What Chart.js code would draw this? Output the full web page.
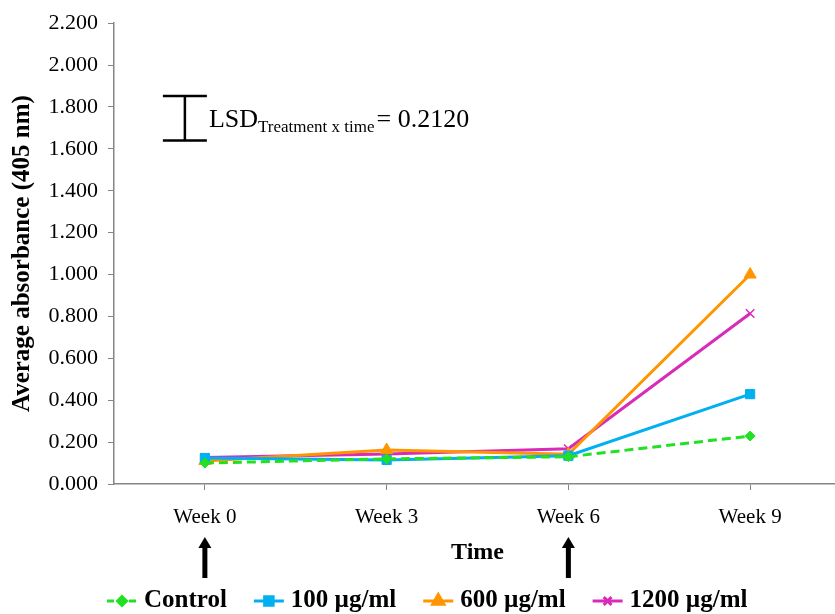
<!DOCTYPE html>
<html>
<head>
<meta charset="utf-8">
<script src="https://cdn.jsdelivr.net/npm/chart.js@4/dist/chart.umd.min.js"></script>
<style>
  html, body { margin: 0; padding: 0; background: #fff; }
  #wrap { width: 835px; height: 614px; position: relative; }
</style>
</head>
<body>
<div id="wrap"><canvas id="c" width="835" height="614"></canvas></div>
<script>
// ---- data ----
const categories = ['Week 0', 'Week 3', 'Week 6', 'Week 9'];
const seriesNames = ['Control', '100 µg/ml', '600 µg/ml', '1200 µg/ml'];
const control = [0.100, 0.120, 0.130, 0.229];
const conc100 = [0.124, 0.115, 0.135, 0.429];
const conc600 = [0.110, 0.162, 0.142, 1.000];
const conc1200 = [0.127, 0.143, 0.168, 0.814];
const yTicksMin = 0, yTicksMax = 2.2, yTickStep = 0.2;
const lsdValue = 0.2120;
const lsdTop = 1.852;          // value level of the LSD bar top
const arrowWeeks = ['Week 0', 'Week 6'];
const yTitle = 'Average absorbance (405 nm)';
const xTitle = 'Time';

const SERIF = "'Liberation Serif', 'Times New Roman', serif";
const colors = ['#22E022', '#00B0F0', '#FF9500', '#D82BB8'];
const styles = ['rectRot', 'rect', 'triangle', 'crossRot'];
const radii = [5, 6.5, 7, 6];
const values = [control, conc100, conc600, conc1200];

const datasets = values.map((v, i) => ({
  label: seriesNames[i],
  data: v,
  borderColor: colors[i],
  backgroundColor: colors[i],
  borderWidth: 3,
  borderDash: i === 0 ? [9, 5] : [],
  pointStyle: styles[i],
  pointRadius: radii[i],
  pointHoverRadius: radii[i],
  pointBorderWidth: i === 3 ? 1.5 : 1,
  pointBorderColor: colors[i],
  pointBackgroundColor: colors[i],
  tension: 0,
  fill: false
}));

// the plot area of the original runs a few pixels past the right edge
const widen = {
  id: 'widen',
  afterLayout(chart) {
    const extra = 6;
    const xs = chart.scales.x;
    chart.chartArea.right += extra;
    chart.chartArea.width += extra;
    xs.right += extra;
    xs.width += extra;
    xs.configure();
  }
};

const annot = {
  id: 'annot',
  afterDraw(chart) {
    const ctx = chart.ctx;
    const xs = chart.scales.x, ys = chart.scales.y;
    ctx.save();
    // LSD bar
    const bx = xs.getPixelForValue(-0.11);
    const yT = ys.getPixelForValue(lsdTop);
    const yB = ys.getPixelForValue(lsdTop - lsdValue);
    ctx.strokeStyle = '#000';
    ctx.lineWidth = 2.5;
    ctx.beginPath();
    ctx.moveTo(bx, yT); ctx.lineTo(bx, yB);
    ctx.moveTo(bx - 22, yT); ctx.lineTo(bx + 22, yT);
    ctx.moveTo(bx - 22, yB); ctx.lineTo(bx + 22, yB);
    ctx.stroke();
    // LSD text
    const baseY = (yT + yB) / 2 + 9;
    let tx = bx + 24;
    ctx.fillStyle = '#000';
    ctx.textBaseline = 'alphabetic';
    ctx.textAlign = 'left';
    ctx.font = '26px ' + SERIF;
    ctx.fillText('LSD', tx, baseY);
    tx += ctx.measureText('LSD').width;
    ctx.font = '17px ' + SERIF;
    ctx.fillText('Treatment x time', tx, baseY + 5);
    tx += ctx.measureText('Treatment x time').width + 2;
    ctx.font = '26px ' + SERIF;
    ctx.fillText('= ' + lsdValue.toFixed(4), tx, baseY);

    // arrows
    arrowWeeks.forEach(w => {
      const ax = xs.getPixelForValue(categories.indexOf(w));
      const tip = 537, bot = 578;
      ctx.fillStyle = '#000';
      ctx.fillRect(ax - 2.5, tip + 9, 5, bot - tip - 9);
      ctx.beginPath();
      ctx.moveTo(ax, tip);
      ctx.lineTo(ax + 6.5, tip + 11);
      ctx.lineTo(ax - 6.5, tip + 11);
      ctx.closePath();
      ctx.fill();
    });

    // legend
    const ly = 601;
    let lx = 107;
    ctx.font = 'bold 25px ' + SERIF;
    ctx.textBaseline = 'middle';
    chart.data.datasets.forEach((ds, i) => {
      ctx.strokeStyle = ds.borderColor;
      ctx.lineWidth = 3;
      ctx.setLineDash(i === 0 ? [7, 4] : []);
      ctx.beginPath();
      ctx.moveTo(lx, ly); ctx.lineTo(lx + 30, ly);
      ctx.stroke();
      ctx.setLineDash([]);
      ctx.fillStyle = ds.backgroundColor;
      Chart.helpers.drawPoint(ctx, {
        pointStyle: ds.pointStyle, radius: ds.pointRadius - 0.5, rotation: 0,
        borderWidth: ds.pointBorderWidth
      }, lx + 15, ly);
      ctx.fillStyle = '#000';
      ctx.fillText(ds.label, lx + 37, ly);
      lx += 37 + ctx.measureText(ds.label).width + 27;
    });
    ctx.restore();
  }
};

new Chart(document.getElementById('c'), {
  type: 'line',
  data: { labels: categories, datasets },
  plugins: [widen, annot],
  options: {
    responsive: false,
    animation: false,
    layout: { autoPadding: false, padding: { top: 22, right: 0, bottom: 0, left: 0 } },
    plugins: { legend: { display: false }, tooltip: { enabled: false } },
    scales: {
      x: {
        offset: true,
        afterFit(s) { s.height = 130; },
        border: { color: '#868686', width: 1.5 },
        grid: { display: true, drawOnChartArea: false, drawTicks: true, tickLength: 6, color: '#868686', offset: false },
        ticks: { color: '#000', font: { family: SERIF, size: 21 }, padding: 15, maxRotation: 0 },
        title: { display: true, text: xTitle, color: '#000', font: { family: SERIF, size: 24, weight: 'bold' }, padding: { top: 0, bottom: 47 } }
      },
      y: {
        min: yTicksMin, max: yTicksMax,
        afterFit(s) { s.width = 114; },
        border: { color: '#868686', width: 1.5 },
        grid: { display: true, drawOnChartArea: false, drawTicks: true, tickLength: 6, color: '#868686' },
        ticks: { stepSize: yTickStep, color: '#000', font: { family: SERIF, size: 22 }, padding: 10,
                 callback: v => Number(v).toFixed(3) },
        title: { display: true, text: yTitle, color: '#000', font: { family: SERIF, size: 25, weight: 'bold' }, padding: { top: 8, bottom: 0 } }
      }
    }
  }
});
</script>
</body>
</html>
